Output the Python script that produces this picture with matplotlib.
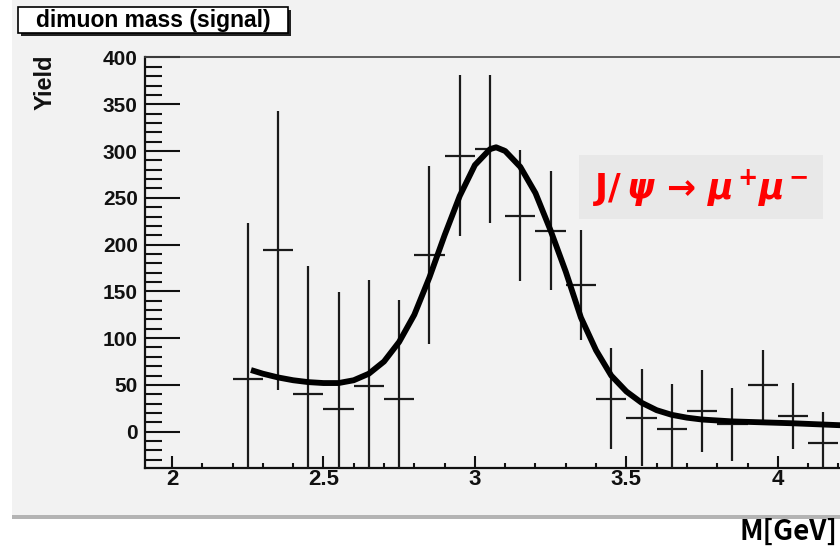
import matplotlib
matplotlib.use("Agg")
import matplotlib.pyplot as plt
from matplotlib.patches import Rectangle
from matplotlib.ticker import MultipleLocator

# ---- data ----
bin_centers = [2.25, 2.35, 2.45, 2.55, 2.65, 2.75, 2.85, 2.95, 3.05, 3.15,
               3.25, 3.35, 3.45, 3.55, 3.65, 3.75, 3.85, 3.95, 4.05, 4.15]
yields = [56, 194, 40, 24, 49, 35, 189, 295, 302, 231,
          215, 157, 35, 15, 3, 22, 8, 50, 17, -12]
yield_err = [167, 149, 137, 125, 113, 106, 95, 86, 79, 70,
             64, 59, 54, 52, 48, 44, 39, 37, 35, 33]
bin_half_width = 0.05

fit_x = [2.27, 2.30, 2.35, 2.40, 2.45, 2.50, 2.55, 2.60, 2.65, 2.70, 2.75,
         2.80, 2.85, 2.90, 2.95, 3.00, 3.05, 3.07, 3.10, 3.15, 3.20, 3.25,
         3.30, 3.35, 3.40, 3.45, 3.50, 3.55, 3.60, 3.65, 3.70, 3.75, 3.85,
         3.95, 4.05, 4.20, 4.30]
fit_y = [65, 62, 58, 55, 53, 52, 52, 55, 62, 75, 96,
         125, 165, 210, 252, 285, 302, 304, 300, 283, 255, 215,
         171, 122, 87, 60, 43, 31, 23, 18, 15, 13, 11,
         10, 9, 7, 6]

x_ticks = [2, 2.5, 3, 3.5, 4]
x_tick_labels = ["2", "2.5", "3", "3.5", "4"]
y_ticks = [0, 50, 100, 150, 200, 250, 300, 350, 400]

W, H = 840, 546
plt.rcParams['font.family'] = ['Liberation Sans', 'DejaVu Sans']

fig = plt.figure(figsize=(W / 100, H / 100), dpi=100)
fig.patch.set_facecolor('white')

def fx(px):
    return px / W

def fy(py):
    return 1 - py / H

# panel background
fig.add_artist(Rectangle((fx(12), fy(517)), fx(840) - fx(12), 517 / H,
                         transform=fig.transFigure, facecolor='#f2f2f2',
                         edgecolor='none', zorder=0))
fig.add_artist(Rectangle((fx(12), fy(519)), fx(840) - fx(12), 4 / H,
                         transform=fig.transFigure, facecolor='#b4b4b4',
                         edgecolor='none', zorder=0))

# axes
left_px, right_px, top_px, bottom_px = 144.7, 899, 57, 468
ax = fig.add_axes([fx(left_px), fy(bottom_px), (right_px - left_px) / W,
                   (bottom_px - top_px) / H])
ax.set_facecolor('#f2f2f2')
ax.set_xlim(1.91, 4.40)
ax.set_ylim(-38.8, 400.5)

ax.errorbar(bin_centers, yields, yerr=yield_err, xerr=bin_half_width,
            fmt='none', ecolor='#1a1a1a', elinewidth=1.6, capsize=0, zorder=3)
ax.plot(fit_x, fit_y, color='black', lw=4.2, solid_joinstyle='round', zorder=4)

ax.set_xticks(x_ticks)
ax.set_xticklabels(x_tick_labels)
ax.set_yticks(y_ticks)
ax.xaxis.set_minor_locator(MultipleLocator(0.1))
ax.yaxis.set_minor_locator(MultipleLocator(10))

ax.tick_params(axis='y', which='major', direction='in', length=25, width=1.5,
               pad=5, labelsize=15, colors='#111111')
ax.tick_params(axis='y', which='minor', direction='in', length=12, width=1.5,
               colors='#111111')
ax.tick_params(axis='x', which='major', direction='in', length=8.5, width=1.5,
               pad=1, labelsize=16, colors='#111111')
ax.tick_params(axis='x', which='minor', direction='in', length=3.6, width=1.5,
               colors='#111111')
for lab in ax.get_xticklabels() + ax.get_yticklabels():
    lab.set_fontweight('bold')

for s in ['left', 'bottom']:
    ax.spines[s].set_linewidth(1.6)
    ax.spines[s].set_color('#111111')
ax.spines['top'].set_linewidth(1.2)
ax.spines['top'].set_color('#444444')
ax.spines['right'].set_visible(False)

# title box with shadow
fig.add_artist(Rectangle((fx(21), fy(36)), (288 - 18) / W, 26 / H,
                         transform=fig.transFigure, facecolor='#222222',
                         edgecolor='none', zorder=5))
fig.add_artist(Rectangle((fx(18), fy(33)), (288 - 18) / W, 26 / H,
                         transform=fig.transFigure, facecolor='white',
                         edgecolor='black', lw=1.2, zorder=6))
fig.text(fx(153), fy(21), "dimuon mass (signal)", ha='center', va='center',
         fontsize=16.5, fontweight='bold', color='black', zorder=7)

# y label
fig.text(fx(45), fy(54), "Yield", rotation=90, ha='center', va='top',
         fontsize=17, fontweight='bold', color='#111111')

# x label
fig.text(fx(838), fy(532), "M[GeV]", ha='right', va='center',
         fontsize=20, fontweight='bold', color='black',
         family=['Noto Sans CJK JP', 'DejaVu Sans'])

# annotation box
fig.add_artist(Rectangle((fx(579), fy(219)), (823 - 579) / W, (219 - 155) / H,
                         transform=fig.transFigure, facecolor='#e8e8e8',
                         edgecolor='none', zorder=5))
fig.text(fx(701), fy(188),
         r'$\mathbf{J/}\,\boldsymbol{\psi}\,\boldsymbol{\rightarrow}\,'
         r'\boldsymbol{\mu}^{\,\mathbf{+}}\boldsymbol{\mu}^{\,\mathbf{-}}$',
         ha='center', va='center', fontsize=25, color='#ff0000', zorder=6)

fig.savefig('out.png', dpi=100, facecolor='white')
